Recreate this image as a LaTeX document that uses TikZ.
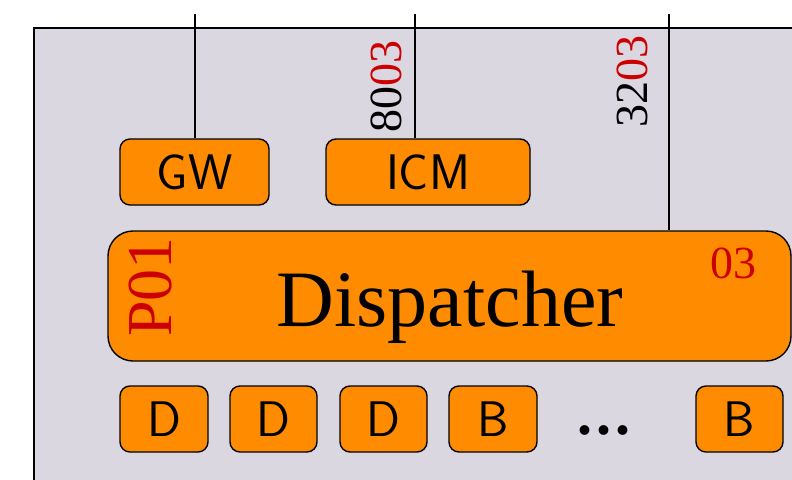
\documentclass[tikz,border=0pt]{standalone}
\usepackage{fontspec}
\newfontfamily\timesf{Liberation Serif}
\definecolor{bgc}{HTML}{DAD7E1}
\definecolor{orng}{HTML}{FF8C00}
\definecolor{redc}{HTML}{CC0000}
\begin{document}
\begin{tikzpicture}[x=1pt,y=-1pt,line width=1.4pt,
  box/.style={draw=black,fill=orng,rounded corners=10pt,inner sep=0pt,
    font=\sffamily\fontsize{50}{50}\selectfont},
  num/.style={font=\timesf\fontsize{46}{46}\selectfont,inner sep=0pt}]
\useasboundingbox (0,0) rectangle (792,479);
\begin{scope}
\clip (0,0) rectangle (792,479);
\draw[fill=bgc] (34,28) rectangle (820,500);
\end{scope}
% top boxes
\node[box,minimum width=149pt,minimum height=66pt] (gw) at (194.5,172) {GW};
\node[box,minimum width=204pt,minimum height=66pt] (icm) at (428,172) {ICM};
% dispatcher
\node[draw=black,fill=orng,rounded corners=25pt,minimum width=683pt,minimum height=130pt,inner sep=0pt] (disp) at (449.5,296) {};
\node[font=\timesf\fontsize{80}{80}\selectfont,inner sep=0pt,anchor=base] (dtext) at (450,326) {Dispatcher};
\node[font=\timesf\fontsize{64}{64}\selectfont,text=redc,rotate=90,inner sep=0pt] (p01) at (151,287) {P01};
\node[num,text=redc] (n03) at (733,263) {03};
% bottom boxes
\foreach \nm/\xa/\xb/\t in {d1/120/208/D,d2/230/317/D,d3/340/427/D,b1/449/537/B,b2/696/783/B}{
  \node[box,minimum width={\xb-\xa},minimum height=66pt] (\nm) at ({(\xa+\xb)/2},419) {\t};
}
\node[font=\timesf\bfseries\fontsize{60}{60}\selectfont,inner sep=0pt,anchor=base] (dots) at (604,434.5) {.\kern4pt.\kern4pt.};
% connectors
\coordinate (t1) at (195,14);
\coordinate (t2) at (415,14);
\coordinate (t3) at (669,14);
\draw (t1) -- (t1 |- gw.north);
\draw (t2) -- (t2 |- icm.north);
\draw (t3) -- (t3 |- disp.north);
% port labels
\node[num,rotate=90] (l1) at (386,86) {80\textcolor{redc}{03}};
\node[num,rotate=90] (l2) at (632,81) {32\textcolor{redc}{03}};
\end{tikzpicture}
\end{document}
